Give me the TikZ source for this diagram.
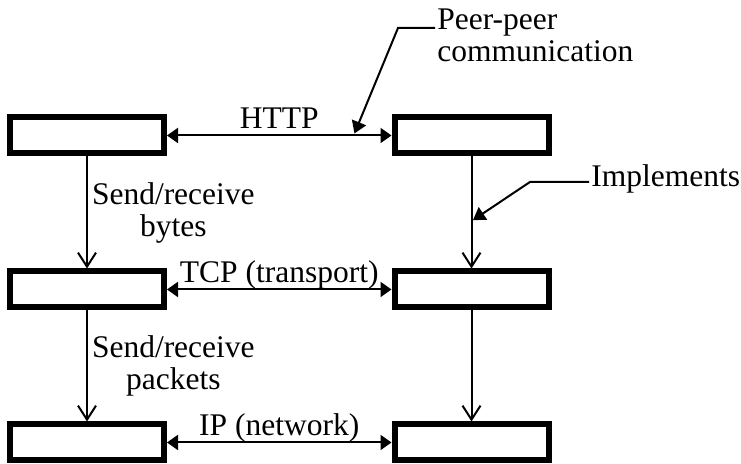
\documentclass[tikz,border=0pt]{standalone}
\usepackage{fontspec}
\setmainfont{Liberation Serif}
\usetikzlibrary{arrows.meta}

\begin{document}
\begin{tikzpicture}[
    x=0.5pt, y=0.5pt,
    line join=miter,
    every node/.style={
      font=\fontsize{15.75pt}{16pt}\selectfont,
      inner sep=1pt
    },
    layerbox/.style={draw, line width=3pt, minimum width=77pt,
      minimum height=18pt, inner sep=0pt},
    peerlink/.style={line width=1pt,
      {Triangle[length=5.5pt,width=7.5pt]}-{Triangle[length=5.5pt,width=7.5pt]}},
    layerdown/.style={line width=1pt, -{Straight Barb[length=7pt,width=9pt]}},
    leader/.style={line width=1pt, -{Triangle[length=6pt,width=7.5pt]}},
    peerlabel/.style={midway, anchor=base, yshift=3.25pt},
    sendlabel/.style={midway, anchor=west, align=center, inner sep=2pt},
    note/.style={anchor=base west, align=left}
]
\useasboundingbox (0,0) rectangle (741,464);

% the two protocol stacks
\foreach \n/\y in {1/328.5, 2/174.5, 3/21.5} {
  \node[layerbox] (l\n) at (87,\y) {};
  \node[layerbox] (r\n) at (471.5,\y) {};
}

% peer-to-peer links
\draw[peerlink] (l1) -- (r1) node[peerlabel] {HTTP} coordinate[pos=0.835] (peerhit);
\draw[peerlink] (l2) -- (r2) node[peerlabel] {TCP (transport)};
\draw[peerlink] (l3) -- (r3) node[peerlabel] {IP (network)};

% down the stacks
\draw[layerdown] (l1) -- (l2) node[sendlabel] {Send/receive\\bytes};
\draw[layerdown] (l2) -- (l3) node[sendlabel] {Send/receive\\packets};
\draw[layerdown] (r1) -- (r2) coordinate[pos=0.568] (implhit);
\draw[layerdown] (r2) -- (r3);

% notes (base is the last line)
\node[note] (peer) at (435,402) {Peer-peer\\communication};
\node[note] (impl) at (589,277) {Implements};

\draw[leader] ([yshift=17pt]peer.base west) -- ++(-18.5pt,0) -- ([yshift=1pt]peerhit);
\draw[leader] ([yshift=2.5pt]impl.base west) -- ++(-29.5pt,0) -- ([xshift=0.75pt]implhit);
\end{tikzpicture}
\end{document}
